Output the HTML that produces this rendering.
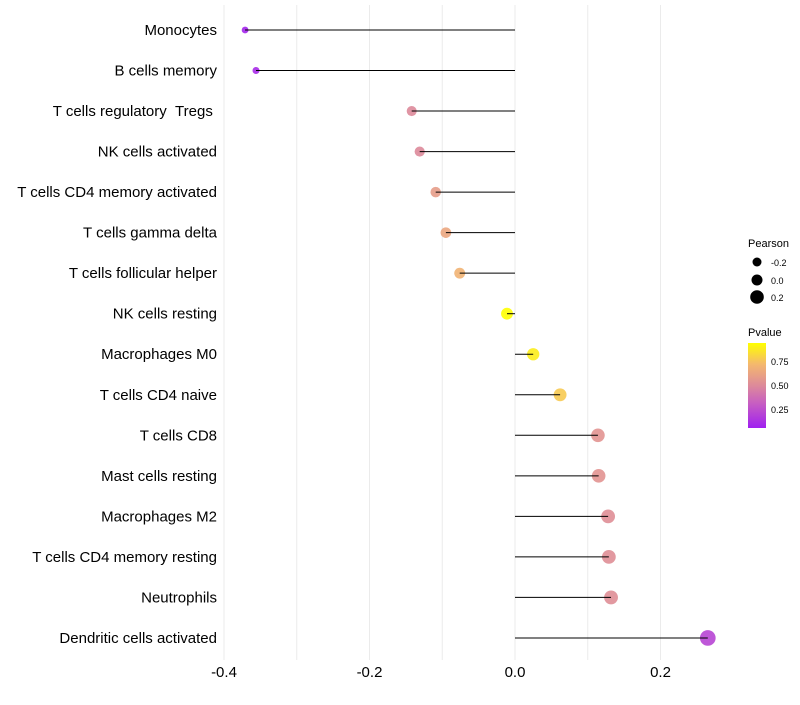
<!DOCTYPE html>
<html><head><meta charset="utf-8"><style>
body{margin:0;background:#fff;font-family:"Liberation Sans",sans-serif}
</style></head><body>
<svg id="c" width="800" height="700" xmlns="http://www.w3.org/2000/svg">
<defs><linearGradient id="pg" x1="0" y1="1" x2="0" y2="0">
<stop offset="0" stop-color="#a020f0"/><stop offset="0.3" stop-color="#c860c0"/><stop offset="0.5" stop-color="#dd8a9a"/><stop offset="0.75" stop-color="#f4b86e"/><stop offset="1" stop-color="#ffff00"/></linearGradient></defs>
<g id="grid"></g><g id="marks"></g><g id="axes"></g>
<g font-size="11">
<text x="748" y="247">Pearson</text>
<circle cx="757" cy="262" r="4.5" fill="#000"/><text x="771" y="266" font-size="9">-0.2</text>
<circle cx="757" cy="280" r="5.5" fill="#000"/><text x="771" y="284" font-size="9">0.0</text>
<circle cx="757" cy="297" r="6.8" fill="#000"/><text x="771" y="301" font-size="9">0.2</text>
<text x="748" y="336">Pvalue</text>
<rect x="748" y="343" width="18" height="85" fill="url(#pg)"/>
<text x="771" y="365" font-size="9">0.75</text>
<text x="771" y="389" font-size="9">0.50</text>
<text x="771" y="413" font-size="9">0.25</text>
</g>
</svg>
<script>
const categories=["Monocytes","B cells memory","T cells regulatory\u00a0\u00a0Tregs\u00a0","NK cells activated","T cells CD4 memory activated","T cells gamma delta","T cells follicular helper","NK cells resting","Macrophages M0","T cells CD4 naive","T cells CD8","Mast cells resting","Macrophages M2","T cells CD4 memory resting","Neutrophils","Dendritic cells activated"];
const pearson=[-0.371,-0.356,-0.142,-0.131,-0.109,-0.095,-0.076,-0.011,0.025,0.062,0.114,0.115,0.128,0.129,0.132,0.265];
const pvalue=[0.08,0.1,0.5,0.5,0.6,0.65,0.72,0.95,0.9,0.8,0.55,0.55,0.52,0.52,0.52,0.2];
const xticks=[-0.4,-0.2,0,0.2];
const xgrid=[-0.4,-0.3,-0.2,-0.1,0,0.1,0.2];
const NS="http://www.w3.org/2000/svg";
const x=v=>515+v*727.5;
const y=i=>30+i*40.53;
const r=v=>Math.max(2,6+7*v);
function lerp(a,b,t){return a.map((c,i)=>Math.round(c+(b[i]-c)*t));}
const stops=[[0.06,[160,32,240]],[0.3,[200,96,192]],[0.5,[221,138,154]],[0.75,[244,184,110]],[0.95,[255,255,0]]];
function col(p){p=Math.min(0.95,Math.max(0.06,p));for(let k=0;k<stops.length-1;k++){const[a,ca]=stops[k],[b,cb]=stops[k+1];if(p<=b){const c=lerp(ca,cb,(p-a)/(b-a));return`rgb(${c})`;}}return"rgb(255,255,0)";}
function mk(t,at,p){const e=document.createElementNS(NS,t);for(const k in at)e.setAttribute(k,at[k]);p.appendChild(e);return e;}
const grid=document.getElementById('grid'),marks=document.getElementById('marks'),axes=document.getElementById('axes');
xgrid.forEach(v=>{const l=mk('line',{x1:x(v),x2:x(v),y1:5,y2:660,stroke:'#ebebeb','stroke-width':1},grid);

});
categories.forEach((c,i)=>{
const t=mk('text',{x:217,y:y(i)+5,'text-anchor':'end','font-size':15,fill:'#000'},axes);t.textContent=c;


const d=mk('circle',{cx:x(pearson[i]),cy:y(i),r:r(pearson[i]),fill:col(pvalue[i]),'fill-opacity':0.9},marks);


const s=mk('line',{x1:x(0),x2:x(pearson[i]),y1:y(i),y2:y(i),stroke:'#000','stroke-width':1},marks);


});
xticks.forEach(v=>{const t=mk('text',{x:x(v),y:677,'text-anchor':'middle','font-size':15,fill:'#000'},axes);t.textContent=v===0?'0.0':v.toFixed(1);

});
</script>
</body></html>
